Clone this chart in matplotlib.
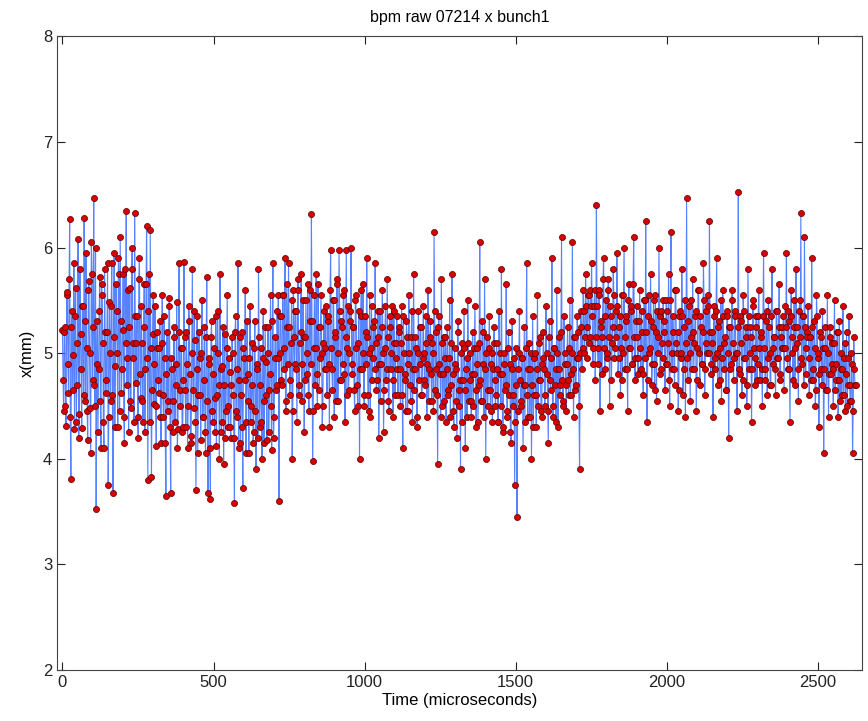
import numpy as np
import matplotlib
matplotlib.use('Agg')
import matplotlib.pyplot as plt

plt.rcParams['font.family'] = ['Liberation Sans', 'DejaVu Sans']

title = 'bpm raw 07214 x bunch1'
xlabel = 'Time (microseconds)'
ylabel = 'x(mm)'

# bpm position readings (mm), even samples in 80 us chunks
x_even = [
    5.22, 4.45, 5.25, 4.31, 5.58, 4.62, 6.27, 3.81, 5.40, 4.98, 4.28, 5.62, 4.70, 6.08, 4.42, 5.18, 4.29, 5.45, 6.28, 4.55,
    5.05, 4.18, 5.68, 4.48, 6.05, 4.75, 6.47, 4.50, 3.52, 5.30, 4.85, 5.72, 4.10, 5.55, 4.35, 5.80, 4.62, 5.20, 3.75, 5.48,
    4.55, 5.85, 3.68, 5.95, 4.88, 5.40, 4.30, 5.75, 6.10, 4.62, 5.22, 4.40, 5.80, 6.35, 4.95, 4.25, 5.62, 4.48, 6.00, 5.10,
    6.33, 4.72, 5.35, 4.20, 5.90, 4.58, 5.10, 4.35, 5.65, 4.85, 6.20, 3.80, 5.75, 6.17, 3.83, 5.18, 4.52, 5.45, 4.12, 5.05,
    4.62, 5.30, 4.15, 5.55, 4.40, 4.95, 3.65, 5.20, 4.55, 5.52, 3.68, 4.85, 4.25, 5.15, 4.70, 5.48, 4.28, 5.85, 4.50, 5.05,
    4.30, 5.86, 4.65, 5.20, 4.10, 5.45, 4.80, 4.22, 5.80, 4.48, 5.12, 3.70, 5.35, 4.60, 4.95, 4.18, 5.50, 4.40, 5.25, 4.05,
    5.72, 3.68, 4.90, 3.62, 5.30, 4.35, 5.05, 4.58, 4.12, 5.40, 4.70, 5.75, 4.25, 4.88, 3.95, 5.18, 4.45, 5.55, 4.30, 4.82,
    4.20, 5.15, 4.60, 3.58, 5.35, 4.40, 5.85, 4.75, 4.15, 5.20, 3.72, 4.95, 5.60, 4.35, 4.80, 4.05, 5.45, 4.50, 5.10, 4.25,
    5.30, 3.90, 4.85, 5.80, 4.30, 5.05, 4.00, 5.40, 4.55, 4.92, 4.18, 5.25, 4.65, 5.55, 4.08, 5.85, 4.40, 5.15, 4.70, 4.95,
    3.60, 5.35, 4.75, 5.55, 4.85, 5.90, 4.45, 5.25, 5.85, 4.60, 5.10, 4.00, 5.60, 4.90, 5.40, 4.35, 5.70, 4.70, 5.20, 4.55,
    5.50, 4.25, 5.15, 4.80, 5.65, 4.45, 5.30, 6.32, 3.98, 5.05, 4.70, 5.75, 4.50, 5.25, 4.95, 5.55, 4.30, 5.10, 4.85, 5.45,
    4.60, 5.35, 4.30, 5.98, 4.85, 5.50, 4.40, 5.20, 5.70, 4.55, 5.98, 4.75, 5.30, 4.90, 5.60, 4.35, 5.98, 5.05, 4.65, 5.40,
    6.00, 4.80, 5.25, 4.45, 5.55, 4.70, 5.10, 4.00, 5.35, 4.85, 5.65, 4.50, 5.20, 5.90, 4.60, 5.00, 4.40, 5.45, 4.95, 5.30,
    5.85, 4.65, 5.15, 4.20, 5.40, 4.90, 5.60, 4.25, 5.05, 4.75, 5.70, 4.55, 5.25, 4.85, 5.45, 4.40, 5.10, 4.95, 5.35, 4.60,
    5.20, 4.50, 5.45, 4.10, 5.00, 4.80, 5.30, 4.45, 5.55, 4.70, 5.15, 4.35, 5.75, 4.85, 5.05, 4.30, 5.40, 4.90, 5.25, 4.60,
    5.45, 4.75, 5.10, 4.40, 5.60, 4.85, 5.30, 4.55, 5.00, 6.15, 4.65, 5.20, 3.95, 5.35, 4.80, 5.70, 4.50, 5.15, 4.95, 4.35,
    5.25, 4.60, 5.50, 4.70, 5.75, 4.45, 5.05, 4.85, 4.20, 5.30, 4.65, 3.90, 5.10, 4.75, 5.40, 4.10, 4.95, 5.50, 4.55, 5.00,
    4.40, 5.20, 4.80, 5.45, 4.30, 5.05, 4.70, 6.05, 4.55, 5.30, 4.90, 5.70, 4.00, 5.15, 4.65, 5.35, 4.45, 5.00, 4.85, 5.25,
    4.50, 5.10, 4.35, 5.40, 4.80, 5.80, 4.25, 5.00, 4.65, 5.65, 4.40, 5.20, 4.90, 4.15, 5.30, 4.60, 3.75, 5.05, 3.45, 4.85,
    5.40, 4.55, 4.95, 4.10, 5.25, 4.70, 5.85, 4.40, 5.10, 4.85, 4.00, 5.35, 4.60, 5.00, 4.30, 5.55, 4.75, 5.15, 4.45, 4.90,
    5.20, 4.50, 5.45, 4.80, 4.15, 5.30, 4.65, 5.90, 4.40, 5.05, 4.85, 5.60, 4.30, 5.15, 4.70, 6.10, 4.55, 5.35, 4.90, 4.45,
    5.25, 4.60, 5.50, 4.80, 6.05, 4.40, 5.15, 4.70, 5.35, 4.95, 3.90, 5.40, 4.85, 5.60, 5.00, 5.75, 4.95, 5.55, 5.10, 5.60,
    5.85, 4.90, 5.45, 4.75, 6.40, 5.05, 5.60, 4.45, 5.30, 5.15, 5.90, 4.85, 5.50, 5.00, 5.70, 4.50, 5.35, 5.10, 5.80, 4.95,
    5.40, 5.95, 4.80, 5.25, 4.60, 5.55, 5.00, 6.00, 4.85, 5.35, 4.45, 5.65, 5.05, 5.45, 4.90, 6.10, 4.75, 5.30, 5.15, 4.95,
    5.60, 4.85, 5.20, 4.60, 5.50, 6.25, 4.35, 5.35, 5.00, 5.75, 4.70, 5.25, 4.90, 5.55, 4.55, 5.15, 6.00, 4.80, 5.40, 4.95,
    5.30, 4.65, 5.50, 4.90, 5.75, 4.50, 6.15, 4.85, 5.20, 4.70, 5.60, 5.00, 4.45, 5.35, 4.95, 5.80, 4.60, 5.25, 4.40, 6.47,
    4.75, 5.45, 4.55, 5.15, 5.70, 4.85, 5.35, 4.45, 5.05, 5.60, 4.70, 5.25, 4.90, 5.85, 4.60, 5.40, 5.00, 5.55, 6.25, 4.80,
    5.20, 4.40, 5.45, 4.95, 5.90, 4.70, 5.30, 5.05, 4.55, 5.60, 4.85, 5.15, 4.65, 5.35, 4.20, 5.25, 4.90, 5.60, 4.75, 5.40,
    5.00, 4.45, 6.53, 4.80, 5.30, 4.60, 5.55, 4.95, 5.15, 4.50, 5.80, 4.85, 5.25, 4.35, 5.45, 5.05, 4.70, 5.35, 4.90, 5.60,
    4.75, 5.20, 4.50, 5.95, 4.85, 5.30, 4.60, 5.50, 5.00, 4.70, 5.80, 4.90, 5.15, 4.60, 5.40, 4.95, 5.65, 4.80, 5.25, 5.05,
    4.65, 5.45, 5.95, 4.85, 5.30, 4.35, 5.60, 5.00, 5.25, 4.70, 5.80, 5.10, 4.55, 5.50, 6.33, 4.90, 5.35, 6.10, 4.80, 5.20,
    5.45, 4.60, 5.15, 5.90, 4.75, 5.30, 4.50, 5.55, 4.95, 4.30, 5.20, 4.85, 5.40, 4.05, 5.05, 4.65, 5.55, 4.40, 5.25, 4.80,
    5.10, 4.50, 5.50, 4.75, 5.20, 4.40, 5.30, 4.85, 4.60, 5.45, 4.95, 4.45, 5.20, 4.70, 5.35, 4.55, 5.00, 4.05, 5.15, 4.70,
]

# odd samples (the ones packed in between), same chunks
x_odd = [
    4.75, 5.20, 4.50, 5.55, 4.90, 5.70, 4.40, 5.25, 4.65, 5.85, 5.35, 4.35, 5.10, 4.20, 5.80, 4.85, 5.45, 4.60, 5.30, 5.95,
    4.45, 5.60, 5.00, 4.05, 5.75, 5.25, 4.70, 6.00, 4.90, 4.25, 5.40, 4.55, 5.65, 5.10, 4.10, 5.20, 4.75, 5.85, 4.40, 5.00,
    5.45, 4.60, 5.15, 4.30, 5.65, 5.00, 5.90, 4.45, 5.30, 4.85, 5.75, 4.15, 5.10, 4.70, 5.60, 5.25, 4.55, 5.80, 4.95, 4.35,
    5.35, 5.10, 4.40, 5.70, 4.80, 5.45, 4.55, 5.25, 4.25, 5.65, 4.95, 5.40, 4.35, 5.05, 4.65, 5.55, 4.90, 4.50, 5.20, 4.75,
    5.05, 4.40, 5.10, 4.60, 5.35, 4.15, 4.80, 4.45, 5.45, 4.30, 4.95, 4.55, 5.25, 4.35, 4.90, 4.10, 5.20, 4.65, 5.05, 4.25,
    4.75, 5.15, 4.30, 4.90, 4.50, 5.30, 4.15, 5.00, 4.65, 5.40, 4.35, 4.85, 4.05, 5.20, 4.60, 5.00, 4.40, 4.75, 4.25, 5.15,
    4.55, 4.95, 4.10, 5.15, 4.45, 4.80, 4.25, 5.35, 4.60, 5.00, 4.00, 4.85, 4.35, 5.25, 4.70, 4.20, 5.05, 4.50, 4.95, 4.30,
    4.70, 5.00, 4.20, 5.20, 4.45, 4.85, 4.10, 5.15, 4.60, 4.30, 5.05, 4.75, 4.05, 5.30, 4.55, 4.95, 4.35, 4.70, 4.15, 5.05,
    4.45, 4.90, 4.20, 5.15, 4.70, 4.35, 4.95, 4.15, 5.25, 4.60, 5.00, 4.25, 4.80, 4.50, 5.30, 4.20, 4.95, 4.65, 5.40, 5.55,
    5.00, 5.35, 4.70, 5.55, 5.05, 4.55, 5.65, 4.90, 5.25, 4.75, 5.50, 4.45, 5.15, 5.40, 4.85, 5.60, 4.60, 5.10, 5.75, 4.90,
    5.15, 4.75, 5.50, 5.00, 4.60, 5.60, 4.90, 5.30, 4.45, 5.55, 5.05, 4.80, 5.65, 4.65, 5.25, 5.00, 4.50, 5.40, 5.05, 4.85,
    5.30, 4.90, 5.60, 5.05, 4.65, 5.50, 5.15, 4.55, 5.65, 5.00, 5.40, 4.75, 5.25, 5.55, 4.80, 5.15, 4.60, 5.45, 5.00, 5.30,
    4.90, 5.25, 4.65, 5.50, 5.05, 4.50, 5.40, 4.85, 5.60, 5.00, 4.60, 5.35, 4.90, 5.15, 4.45, 5.55, 5.05, 4.75, 5.25, 4.85,
    5.10, 4.75, 5.40, 4.90, 4.55, 5.25, 5.00, 4.65, 5.45, 4.85, 5.15, 4.45, 5.35, 5.00, 4.75, 5.40, 4.60, 5.10, 4.85, 5.25,
    4.85, 5.10, 4.60, 5.35, 4.75, 4.45, 5.15, 4.90, 5.00, 4.55, 5.40, 4.85, 4.65, 5.15, 4.40, 5.00, 4.75, 5.25, 4.60, 4.95,
    5.00, 4.70, 5.35, 4.90, 4.55, 5.15, 4.80, 5.10, 4.45, 5.40, 4.85, 4.60, 5.25, 4.90, 4.40, 5.10, 4.80, 4.55, 5.15, 4.85,
    4.65, 4.95, 4.40, 5.10, 4.80, 4.30, 4.90, 4.55, 5.20, 4.50, 4.75, 5.00, 4.35, 5.05, 4.65, 4.85, 4.40, 5.10, 4.75, 4.55,
    4.80, 4.50, 5.05, 4.65, 4.90, 4.35, 5.10, 4.75, 4.55, 5.20, 4.40, 4.85, 5.00, 4.50, 5.05, 4.65, 4.90, 4.35, 5.10, 4.75,
    4.60, 4.85, 4.35, 5.00, 4.50, 4.80, 4.30, 4.90, 4.70, 4.45, 5.05, 4.60, 4.25, 4.85, 4.50, 4.95, 4.35, 4.70, 4.45, 5.00,
    4.75, 4.50, 4.95, 4.70, 4.35, 5.05, 4.60, 4.85, 4.40, 5.00, 4.70, 4.30, 4.95, 4.60, 4.85, 4.50, 5.10, 4.75, 4.40, 4.95,
    4.85, 4.60, 5.00, 4.45, 5.15, 4.75, 4.95, 4.50, 5.05, 4.70, 4.35, 5.00, 4.85, 4.60, 5.20, 4.75, 4.50, 5.00, 4.70, 4.90,
    4.75, 5.05, 4.60, 5.00, 4.85, 5.15, 4.65, 4.95, 5.20, 4.50, 5.00, 5.25, 5.05, 5.40, 5.15, 5.45, 5.25, 5.55, 5.15, 5.45,
    5.35, 5.05, 5.60, 5.15, 5.45, 4.90, 5.55, 5.25, 4.80, 5.70, 5.05, 5.35, 4.95, 5.60, 5.15, 5.45, 4.75, 5.25, 5.55, 5.05,
    5.15, 5.45, 4.95, 5.35, 5.05, 4.75, 5.55, 5.15, 5.30, 4.85, 5.50, 5.05, 5.40, 4.90, 5.65, 5.15, 4.95, 5.45, 4.80, 5.30,
    5.05, 5.40, 4.80, 5.50, 4.95, 5.20, 4.75, 5.55, 5.05, 5.30, 4.90, 5.50, 4.65, 5.20, 5.40, 5.00, 5.35, 4.85, 5.10, 5.50,
    5.20, 4.90, 5.40, 5.10, 4.75, 5.50, 5.00, 5.35, 4.85, 5.60, 5.10, 5.20, 4.65, 5.40, 5.00, 5.35, 4.85, 5.50, 5.10, 4.95,
    5.30, 5.00, 5.50, 4.85, 5.20, 5.10, 5.40, 4.75, 5.60, 5.00, 5.35, 4.90, 5.20, 5.50, 4.85, 5.10, 5.45, 5.00, 5.20, 4.90,
    5.10, 5.35, 4.85, 5.40, 5.00, 5.25, 4.75, 5.50, 4.95, 5.35, 5.10, 4.65, 5.40, 5.00, 5.25, 4.85, 5.50, 5.10, 4.95, 5.35,
    5.00, 5.25, 4.85, 5.35, 5.10, 4.75, 5.40, 4.95, 5.25, 4.70, 5.35, 5.00, 5.15, 4.85, 5.50, 4.95, 5.25, 4.75, 5.35, 5.05,
    5.15, 4.85, 5.35, 5.05, 4.75, 5.40, 4.95, 5.25, 4.70, 5.35, 5.05, 5.15, 4.85, 5.40, 4.95, 5.25, 4.75, 5.15, 5.05, 5.35,
    5.05, 5.25, 4.95, 5.40, 4.85, 5.35, 5.15, 4.75, 5.50, 5.05, 5.25, 4.85, 5.40, 5.15, 4.95, 5.35, 4.70, 5.25, 5.05, 5.15,
    4.95, 5.15, 4.75, 5.25, 4.85, 5.05, 4.65, 5.35, 5.00, 4.80, 5.15, 4.70, 5.05, 4.85, 5.25, 4.65, 5.00, 4.80, 5.15, 4.90,
    4.85, 5.10, 4.65, 4.90, 5.20, 4.75, 4.55, 5.00, 4.85, 4.60, 5.10, 4.80, 4.50, 4.95, 4.70, 4.55, 4.90, 4.45, 4.85, 4.70,
]

dt_us = 1.99  # sample spacing in microseconds
x_mm = np.column_stack([x_even, x_odd]).ravel()
t_us = np.arange(len(x_mm)) * dt_us

fig = plt.figure(figsize=(8.68, 7.21), dpi=100)
ax = fig.add_axes([0.0657, 0.0707, 0.927, 0.879])

ax.plot(t_us, x_mm, '-', color='#3a6cff', linewidth=0.8, alpha=0.85, zorder=2)
ax.plot(t_us, x_mm, 'o', markersize=4.4, markerfacecolor='#d80000',
        markeredgecolor='#5a0000', markeredgewidth=0.5, linestyle='none', zorder=3)

ax.set_xlim(-18, 2645)
ax.set_ylim(2, 8)
ax.set_xticks([0, 500, 1000, 1500, 2000, 2500])
ax.set_yticks([2, 3, 4, 5, 6, 7, 8])

ax.tick_params(direction='in', top=True, right=True, length=6, width=0.8,
               labelsize=12, colors='#222222')
for sp in ax.spines.values():
    sp.set_color('#444444')
    sp.set_linewidth(0.8)

ax.set_title(title, fontsize=11.5, pad=10)
ax.set_xlabel(xlabel, fontsize=12, labelpad=2)
ax.set_ylabel(ylabel, fontsize=12, labelpad=6)

plt.savefig('out.png', dpi=100)
